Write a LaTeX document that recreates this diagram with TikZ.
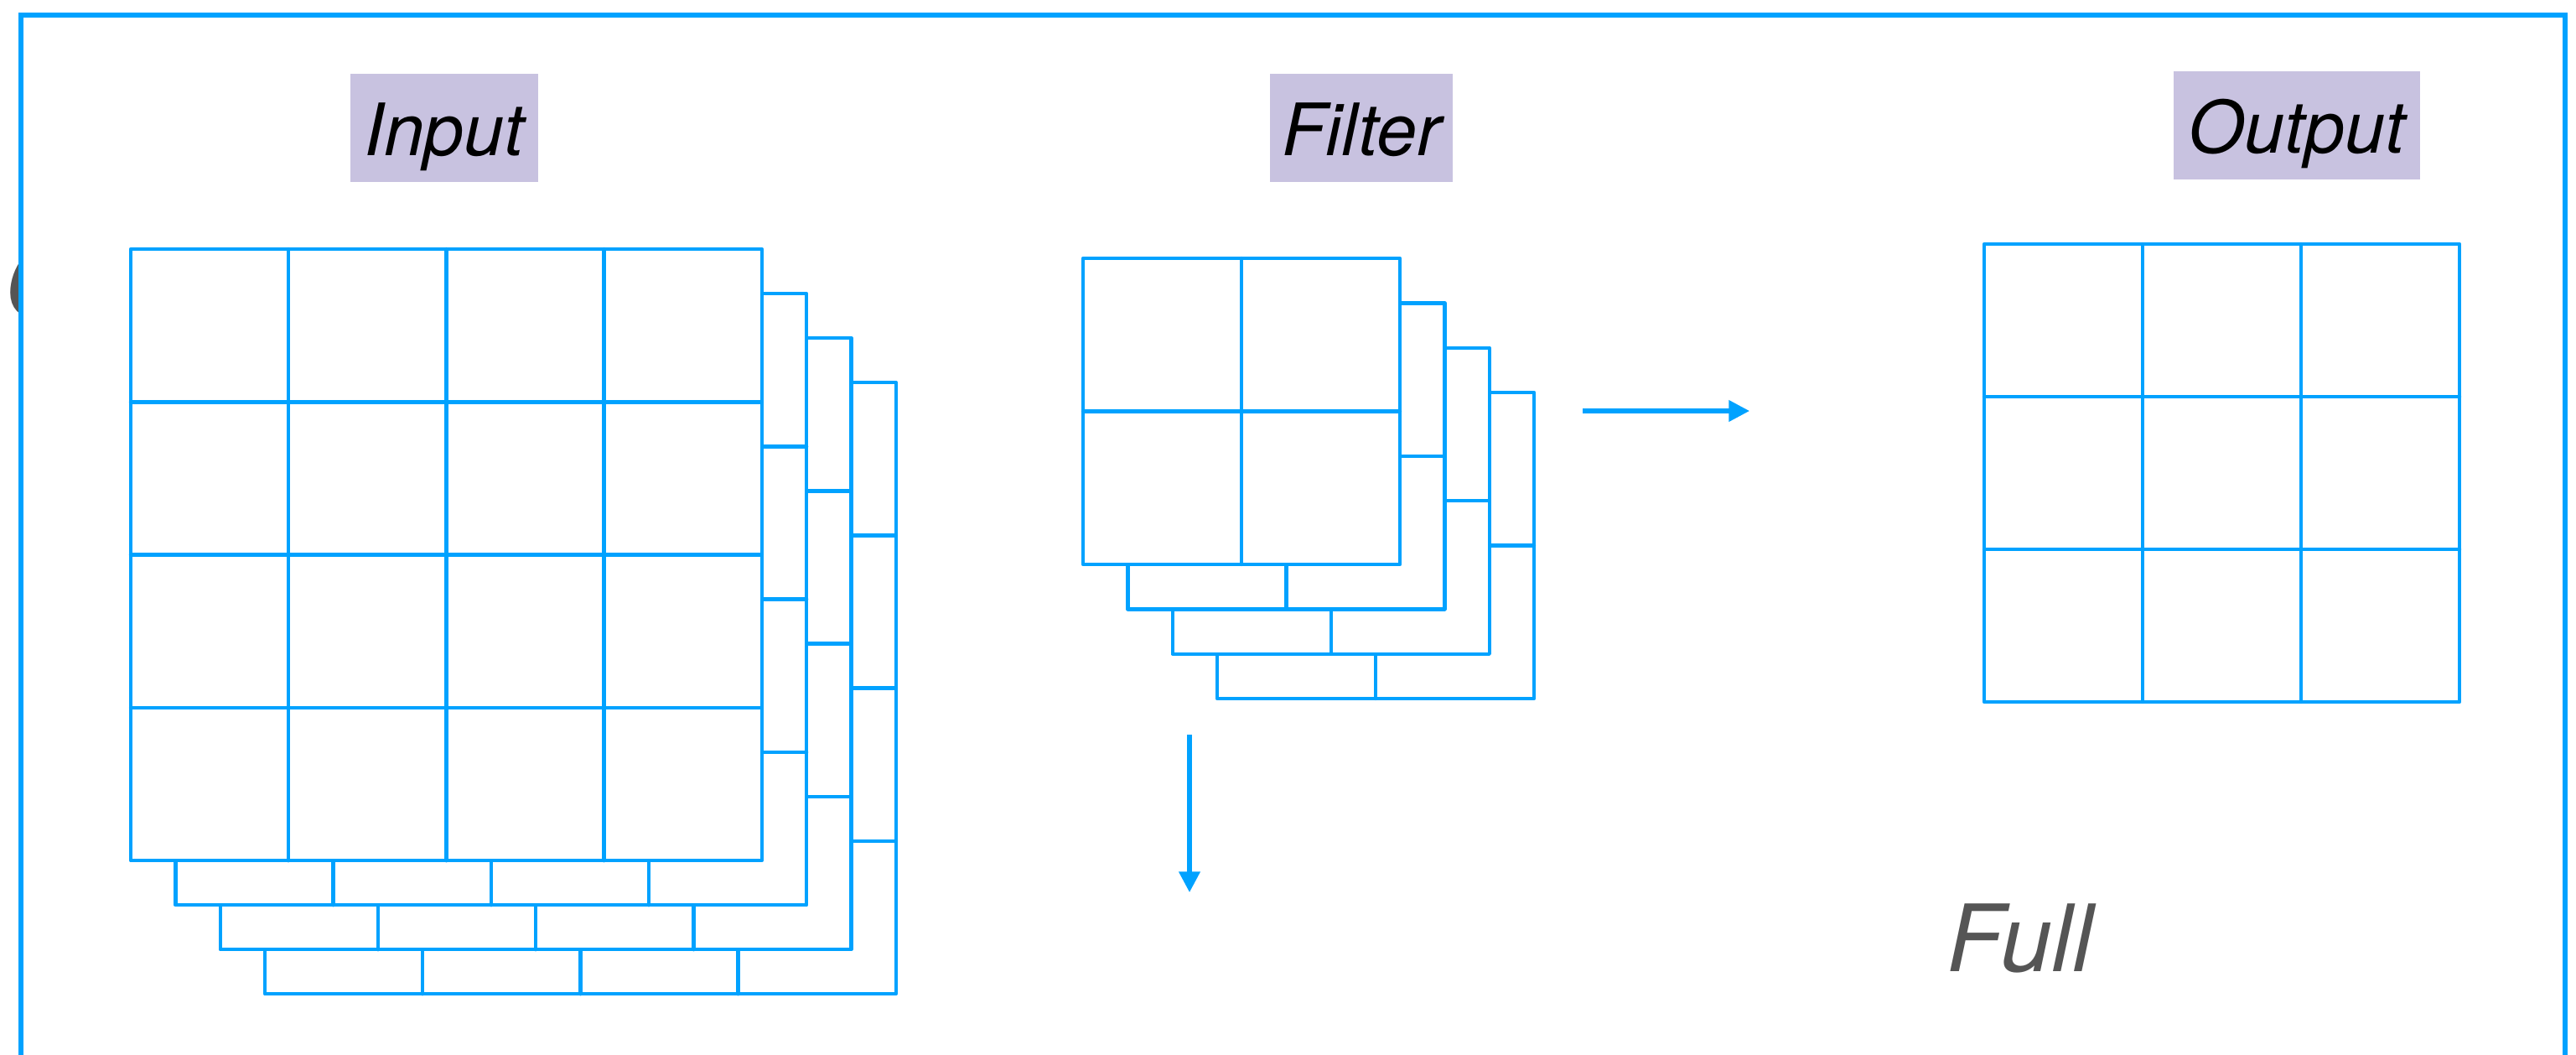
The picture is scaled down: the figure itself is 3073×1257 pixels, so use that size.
\documentclass[tikz,border=0pt]{standalone}
\usepackage{fontspec}
\setmainfont{TeX Gyre Heros}
\usetikzlibrary{arrows.meta}
\definecolor{cnnblue}{RGB}{0,162,255}
\definecolor{lavender}{RGB}{200,194,224}
\definecolor{darkgraytxt}{RGB}{85,85,85}
\newcommand\cnngrid[6]{% x y nx ny cellw cellh
  \filldraw[gridline, fill=white] (#1,#2) rectangle ++({#3*#5},{#4*#6});
  \foreach \ii in {1,...,\numexpr#3-1\relax} {\draw[gridline] ({#1+\ii*#5},#2) -- ++(0,{#4*#6});}
  \foreach \jj in {1,...,\numexpr#4-1\relax} {\draw[gridline] (#1,{#2+\jj*#6}) -- ++({#3*#5},0);}
}
\begin{document}
\begin{tikzpicture}[x=0.01cm,y=-0.01cm,
  gridline/.style={draw=cnnblue, line width=1.25pt, line join=round, line cap=round},
  frameline/.style={draw=cnnblue, line width=1.45pt, line join=miter},
  labelbox/.style={fill=lavender, inner sep=0pt, font=\itshape\fontsize{24.5}{28}\selectfont, text=black, text height=0.97cm, text depth=0.32cm},
  arrowline/.style={draw=cnnblue, line width=1.45pt, -{Triangle[length=7pt, width=7pt]}},
  bigtext/.style={font=\itshape\fontsize{31.5}{36}\selectfont, text=darkgraytxt, inner sep=0pt}]
\useasboundingbox (0,0) rectangle (3073,1257);
\fill[white] (0,0) rectangle (3073,1257);

% partially hidden glyph at the left edge
\begin{scope}
  \clip (0,0) rectangle (25,1257);
  \node[bigtext, font=\itshape\fontsize{32.5}{36}\selectfont, anchor=base west] (hiddenC) at (5,377) {C};
\end{scope}

% outer frame (cut off at the bottom)
\draw[frameline] (25,1270) -- (25,18) -- (3060,18) -- (3060,1270);

% labels
\node[labelbox, minimum width=2.24cm] (inputlbl) at (530,152.5) {Input};
\node[labelbox, minimum width=2.18cm] (filterlbl) at (1624,152.5) {Filter};
\node[labelbox, minimum width=2.94cm] (outputlbl) at (2740,149.5) {Output};

% input volume (4 channels, 4x4)
\cnngrid{316}{456}{4}{4}{188.2}{182.3}
\cnngrid{262.7}{403}{4}{4}{188.2}{182.3}
\cnngrid{209.3}{350}{4}{4}{188.2}{182.3}
\cnngrid{156}{297}{4}{4}{188.2}{182.3}

% filter volume (4 channels, 2x2)
\cnngrid{1452}{468}{2}{2}{189}{182.5}
\cnngrid{1398.7}{414.7}{2}{2}{189}{182.5}
\cnngrid{1345.3}{361.3}{2}{2}{189}{182.5}
\cnngrid{1292}{308}{2}{2}{189}{182.5}

% output (3x3)
\cnngrid{2367}{291}{3}{3}{189}{182}

% arrows
\coordinate (harrowstart) at (1888,490);
\coordinate (harrowend) at (2087,490);
\coordinate (varrowstart) at (1419,876);
\coordinate (varrowend) at (1419,1064);
\draw[arrowline] (harrowstart) -- (harrowend);
\draw[arrowline] (varrowstart) -- (varrowend);

% mode label
\node[bigtext, anchor=base west] (fulllbl) at (2322,1158) {Full};
\end{tikzpicture}
\end{document}
